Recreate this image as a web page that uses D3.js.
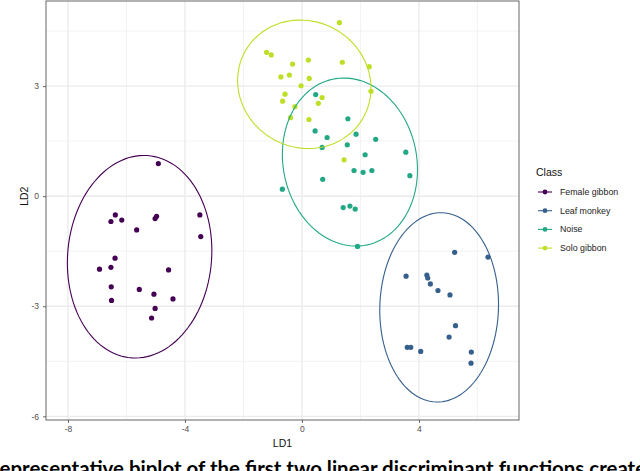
<!DOCTYPE html>
<html>
<head>
<meta charset="utf-8">
<script src="https://cdn.jsdelivr.net/npm/d3@7"></script>
<style>
  body { margin: 0; background: #fff; }
  svg { display: block; }
</style>
</head>
<body>
<div id="chart"></div>
<script>
// class names
const classes = ["Female gibbon", "Leaf monkey", "Noise", "Solo gibbon"];

// LD1 / LD2 scores
const femaleLD1 = [-4.91, -6.53, -6.38, -6.16, -5.65, -5.02, -4.97, -3.49, -3.46, -6.39, -6.92, -6.53, -4.56, -6.52, -5.56, -5.06, -4.41, -6.51, -5.02, -5.14];
const femaleLD2 = [0.89, -0.69, -0.51, -0.65, -0.92, -0.61, -0.55, -0.51, -1.10, -1.69, -1.99, -1.94, -2.01, -2.47, -2.54, -2.67, -2.80, -2.84, -3.06, -3.32];

const leafLD1 = [5.22, 6.36, 3.56, 4.27, 4.30, 4.39, 4.65, 5.06, 5.25, 5.03, 3.60, 3.72, 4.06, 5.79, 5.78];
const leafLD2 = [-1.53, -1.66, -2.18, -2.15, -2.23, -2.39, -2.57, -2.69, -3.53, -3.84, -4.12, -4.12, -4.23, -4.25, -4.55];

const noiseLD1 = [0.47, 1.57, 0.45, 0.86, 1.85, 2.52, 0.69, 1.55, 3.55, 2.16, 1.78, 2.09, 2.39, 3.69, 0.71, -0.67, 1.41, 1.64, 1.82, 1.90];
const noiseLD2 = [2.77, 2.11, 1.78, 1.60, 1.69, 1.55, 1.33, 1.40, 1.20, 1.13, 0.70, 0.65, 0.70, 0.56, 0.46, 0.19, -0.31, -0.27, -0.35, -1.37];

const soloLD1 = [1.28, -1.21, -1.05, -0.32, 0.22, 1.38, 2.30, -0.72, -0.43, 0.25, -0.03, 2.36, -0.58, -0.66, 0.69, 0.56, -0.24, -0.39, 0.24, 1.44];
const soloLD2 = [4.73, 3.92, 3.85, 3.60, 3.71, 3.65, 3.53, 3.25, 3.30, 3.21, 3.01, 2.86, 2.78, 2.59, 2.69, 2.53, 2.44, 2.14, 2.09, 0.99];

// 95% ellipses per class (centre, half widths, correlation)
const ellipseCx = [-5.55, 4.69, 1.64, 0.08];
const ellipseCy = [-1.65, -3.03, 0.93, 3.05];
const ellipseRx = [2.47, 2.03, 2.31, 2.28];
const ellipseRy = [2.76, 2.58, 2.29, 1.75];
const ellipseRho = [0.06, 0.03, -0.09, -0.06];

// axis ticks
const xTicks = [-8, -4, 0, 4];
const yTicks = [-6, -3, 0, 3];
const xMinor = [-6, -2, 2, 6];
const yMinor = [-4.5, -1.5, 1.5, 4.5];

const caption = "Representative biplot of the first two linear discriminant functions created";

// set dimensions
const width = 640,
    height = 471,
    panel = { left: 46, right: 519, top: 1, bottom: 420 };

const svg = d3.select("#chart")
    .append("svg")
    .attr("width", width)
    .attr("height", height)
    .style("font-family", "'Liberation Sans', Arial, sans-serif");

svg.append("rect").attr("width", width).attr("height", height).attr("fill", "#fff");

// scales
const xScale = d3.scaleLinear()
    .domain([-8.75, 7.42])
    .range([panel.left, panel.right]);

const yScale = d3.scaleLinear()
    .domain([-6.1, 5.32])
    .range([panel.bottom, panel.top]);

const color = d3.scaleOrdinal()
    .domain(classes)
    .range([0, 0.3, 0.6, 0.9].map(d3.interpolateViridis));

// grid
const grid = svg.append("g");
grid.selectAll(".xminor").data(xMinor).enter().append("line")
    .attr("x1", d => xScale(d)).attr("x2", d => xScale(d))
    .attr("y1", panel.top).attr("y2", panel.bottom)
    .attr("stroke", "#f0f0f0").attr("stroke-width", 0.8);
grid.selectAll(".yminor").data(yMinor).enter().append("line")
    .attr("y1", d => yScale(d)).attr("y2", d => yScale(d))
    .attr("x1", panel.left).attr("x2", panel.right)
    .attr("stroke", "#f0f0f0").attr("stroke-width", 0.8);
grid.selectAll(".xmajor").data(xTicks).enter().append("line")
    .attr("x1", d => xScale(d)).attr("x2", d => xScale(d))
    .attr("y1", panel.top).attr("y2", panel.bottom)
    .attr("stroke", "#ebebeb").attr("stroke-width", 1.4);
grid.selectAll(".ymajor").data(yTicks).enter().append("line")
    .attr("y1", d => yScale(d)).attr("y2", d => yScale(d))
    .attr("x1", panel.left).attr("x2", panel.right)
    .attr("stroke", "#ebebeb").attr("stroke-width", 1.4);

// axes (plain hyphen for negatives, like R)
const xAxis = d3.axisBottom(xScale).tickValues(xTicks).tickSize(3).tickPadding(3)
    .tickFormat(d => String(d));
const yAxis = d3.axisLeft(yScale).tickValues(yTicks).tickSize(3).tickPadding(4)
    .tickFormat(d => String(d));

const gx = svg.append("g")
    .attr("transform", "translate(0," + panel.bottom + ")")
    .call(xAxis);
const gy = svg.append("g")
    .attr("transform", "translate(" + panel.left + ",0)")
    .call(yAxis);

[gx, gy].forEach(g => {
    g.attr("font-family", null);
    g.select(".domain").remove();
    g.selectAll(".tick line").attr("stroke", "#555").attr("stroke-width", 0.9);
    g.selectAll(".tick text").attr("fill", "#4d4d4d").style("font-size", "8.5px")
        .style("font-family", "'Liberation Sans', Arial, sans-serif");
});

// panel border
svg.append("rect")
    .attr("x", panel.left).attr("y", panel.top)
    .attr("width", panel.right - panel.left)
    .attr("height", panel.bottom - panel.top)
    .attr("fill", "none")
    .attr("stroke", "#555")
    .attr("stroke-width", 0.9);

// axis titles
svg.append("text")
    .attr("x", (panel.left + panel.right) / 2)
    .attr("y", 447)
    .attr("text-anchor", "middle")
    .style("font-size", "10.5px")
    .attr("fill", "#111")
    .text("LD1");

svg.append("text")
    .attr("transform", "translate(28," + yScale(0) + ") rotate(-90)")
    .attr("text-anchor", "middle")
    .style("font-size", "10.5px")
    .attr("fill", "#111")
    .text("LD2");

// points
const groups = [
    [femaleLD1, femaleLD2],
    [leafLD1, leafLD2],
    [noiseLD1, noiseLD2],
    [soloLD1, soloLD2]
];
const points = [];
groups.forEach((g, i) => g[0].forEach((x, j) => points.push({ cls: classes[i], x: x, y: g[1][j] })));

svg.append("g").selectAll("circle")
    .data(points)
    .enter()
    .append("circle")
    .attr("cx", d => xScale(d.x))
    .attr("cy", d => yScale(d.y))
    .attr("r", 2.6)
    .attr("fill", d => color(d.cls));

// ellipses
const line = d3.line()
    .x(d => xScale(d[0]))
    .y(d => yScale(d[1]))
    .curve(d3.curveLinearClosed);

const ellipses = classes.map((c, i) => {
    const phi = Math.asin(ellipseRho[i]);
    return d3.range(120).map(k => {
        const t = k / 120 * 2 * Math.PI;
        return [ellipseCx[i] + ellipseRx[i] * Math.cos(t),
                ellipseCy[i] + ellipseRy[i] * Math.sin(t + phi)];
    });
});

svg.append("g").selectAll("path")
    .data(ellipses)
    .enter()
    .append("path")
    .attr("d", line)
    .attr("fill", "none")
    .attr("stroke", (d, i) => color(classes[i]))
    .attr("stroke-width", 1.1);

// legend
const legendGroup = svg.append("g").attr("id", "legend");

legendGroup.append("text")
    .attr("x", 536)
    .attr("y", 176)
    .style("font-size", "10.5px")
    .attr("fill", "#111")
    .text("Class");

const legend = legendGroup.selectAll(".legend-label")
    .data(classes)
    .enter()
    .append("g")
    .attr("class", "legend-label")
    .attr("transform", (d, i) => `translate(0,${192 + i * 18.7})`);

legend.append("line")
    .attr("x1", 538).attr("x2", 552)
    .attr("stroke", d => color(d))
    .attr("stroke-width", 1.1);

legend.append("circle")
    .attr("cx", 545)
    .attr("r", 2.4)
    .attr("fill", d => color(d));

legend.append("text")
    .attr("x", 560)
    .attr("dy", "0.35em")
    .style("font-size", "8.8px")
    .attr("fill", "#222")
    .text(d => d);

// caption, cut off at the page edges like the source figure
const capFont = "Lato, 'Open Sans', sans-serif";
const measure = svg.append("text")
    .style("font-family", capFont)
    .style("font-weight", "bold")
    .style("font-size", "16px");
const w1 = measure.text("Representative ").node().getComputedTextLength();
const w2 = measure.text("Representative biplot of the first two ").node().getComputedTextLength();
measure.remove();
const s = (322 - 124) / (w2 - w1);

svg.append("text")
    .attr("x", 124 - w1 * s)
    .attr("y", 476)
    .style("font-family", capFont)
    .style("font-weight", "bold")
    .style("font-size", (16 * s) + "px")
    .attr("fill", "#000")
    .text(caption);
</script>
</body>
</html>
